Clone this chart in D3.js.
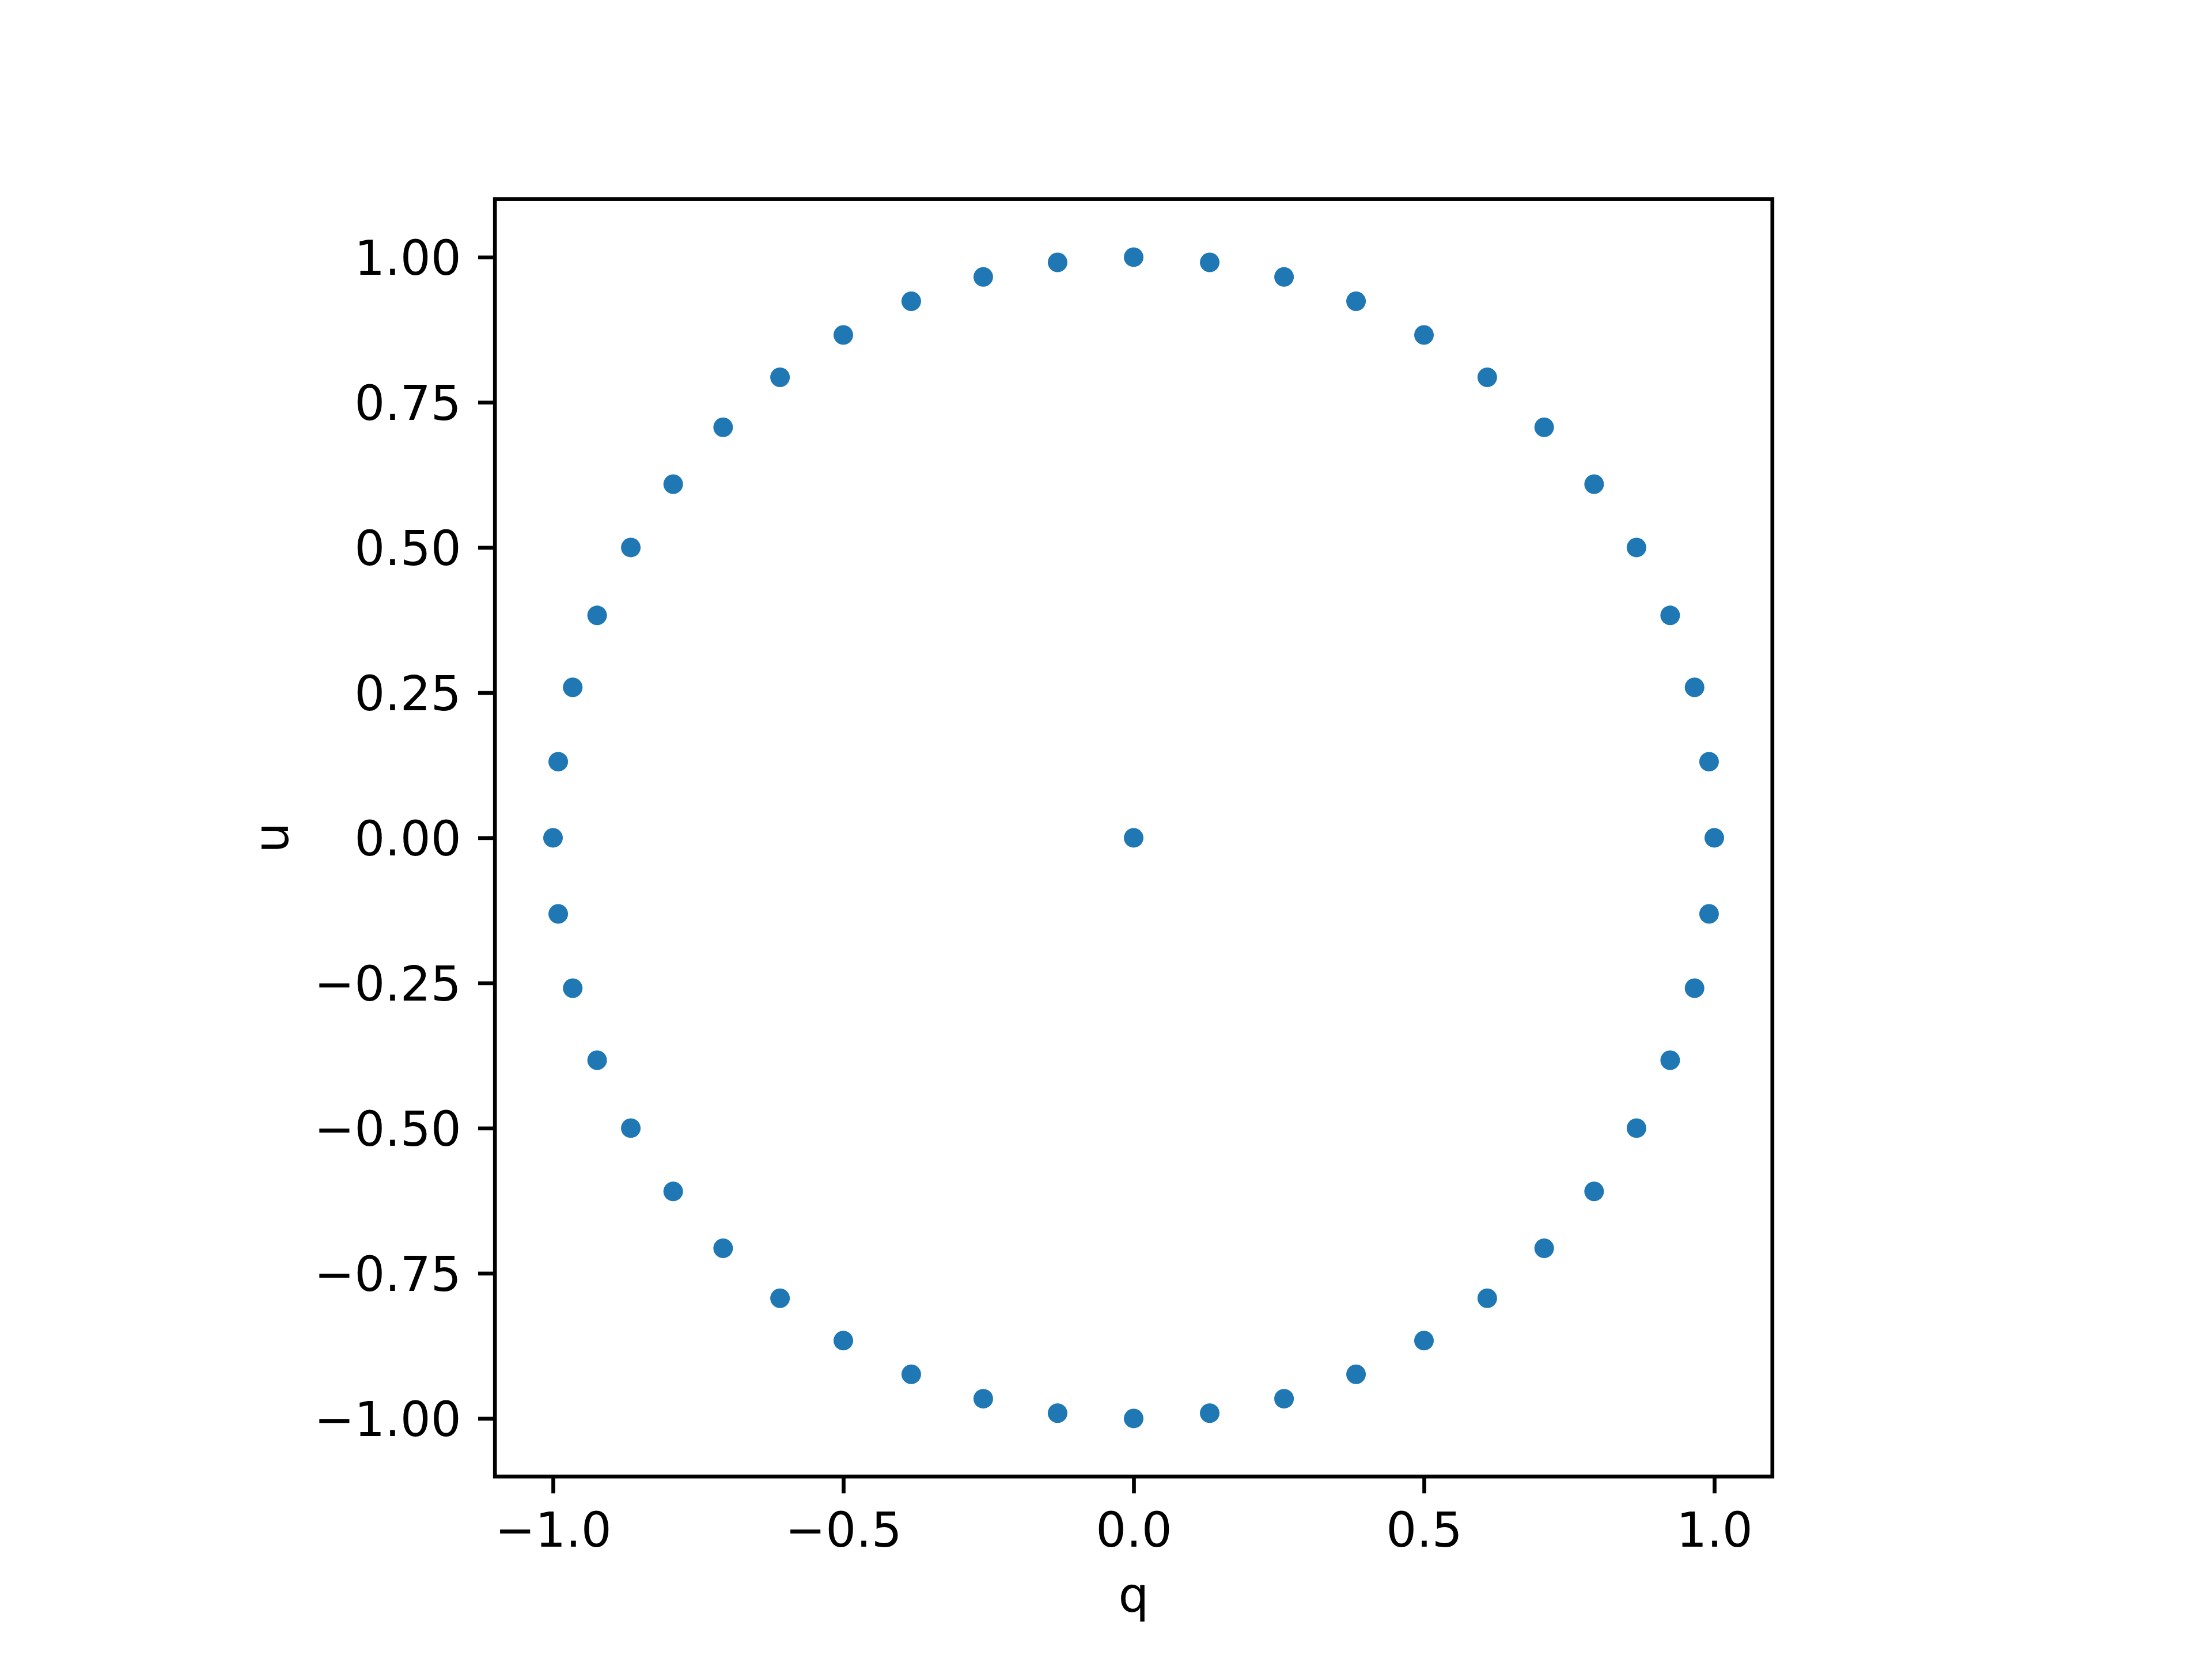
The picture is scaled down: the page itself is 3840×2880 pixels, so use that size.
<!DOCTYPE html>
<html>
<head>
<meta charset="utf-8">
<script src="https://cdn.jsdelivr.net/npm/d3@7"></script>
<style>
  body { margin: 0; background: #fff; }
  svg { display: block; }
  text { font-family: "DejaVu Sans", sans-serif; }
</style>
</head>
<body>
<div id="chart"></div>
<script>
// points: a ring of 48 points plus one at the centre
const qValues = [
    1.000, 0.991, 0.966, 0.924, 0.866, 0.793, 0.707, 0.609, 0.500, 0.383, 0.259, 0.131, 0.000,
    -0.131, -0.259, -0.383, -0.500, -0.609, -0.707, -0.793, -0.866, -0.924, -0.966, -0.991, -1.000,
    -0.991, -0.966, -0.924, -0.866, -0.793, -0.707, -0.609, -0.500, -0.383, -0.259, -0.131, 0.000,
    0.131, 0.259, 0.383, 0.500, 0.609, 0.707, 0.793, 0.866, 0.924, 0.966, 0.991,
    0.000
];
const uValues = [
    0.000, 0.131, 0.259, 0.383, 0.500, 0.609, 0.707, 0.793, 0.866, 0.924, 0.966, 0.991, 1.000,
    0.991, 0.966, 0.924, 0.866, 0.793, 0.707, 0.609, 0.500, 0.383, 0.259, 0.131, 0.000,
    -0.131, -0.259, -0.383, -0.500, -0.609, -0.707, -0.793, -0.866, -0.924, -0.966, -0.991, -1.000,
    -0.991, -0.966, -0.924, -0.866, -0.793, -0.707, -0.609, -0.500, -0.383, -0.259, -0.131,
    0.000
];
const xTicks = [-1.0, -0.5, 0.0, 0.5, 1.0];
const yTicks = [-1.00, -0.75, -0.50, -0.25, 0.00, 0.25, 0.50, 0.75, 1.00];
const xDomain = [-1.1, 1.1];
const yDomain = [-1.1, 1.1];

const points = qValues.map((q, i) => ({ q: q, u: uValues[i] }));

// figure sizes (matplotlib-like, 600 dpi)
const W = 3840, H = 2880;
const pt = 600 / 72;
const fontSize = 10 * pt;
const tickLen = 3.5 * pt;
const tickPad = 3.5 * pt;
const lineW = 0.8 * pt;

// square axes box centred in the default subplot area
const plotTop = H * (1 - 0.88), plotBottom = H * (1 - 0.11);
const side = plotBottom - plotTop;
const plotLeft = W * (0.125 + 0.9) / 2 - side / 2;
const plotRight = plotLeft + side;

const svg = d3.select("#chart").append("svg")
    .attr("width", W)
    .attr("height", H);

const x = d3.scaleLinear().domain(xDomain).range([plotLeft, plotRight]);
const y = d3.scaleLinear().domain(yDomain).range([plotBottom, plotTop]);

// scatter
svg.append("g")
    .selectAll("circle")
    .data(points)
    .join("circle")
    .attr("cx", d => x(d.q))
    .attr("cy", d => y(d.u))
    .attr("r", 17)
    .attr("fill", "#1f77b4");

// axes
const xAxis = d3.axisBottom(x).tickValues(xTicks).tickFormat(d3.format(".1f"))
    .tickSize(tickLen).tickPadding(tickPad);
const yAxis = d3.axisLeft(y).tickValues(yTicks).tickFormat(d3.format(".2f"))
    .tickSize(tickLen).tickPadding(tickPad);

const gx = svg.append("g").attr("transform", `translate(0,${plotBottom})`).call(xAxis);
const gy = svg.append("g").attr("transform", `translate(${plotLeft},0)`).call(yAxis);

[gx, gy].forEach(g => {
    g.select(".domain").remove();
    g.selectAll(".tick line").attr("stroke", "#000").attr("stroke-width", lineW);
    g.selectAll(".tick text")
        .attr("fill", "#000")
        .style("font-size", fontSize + "px")
        .style("font-family", "'DejaVu Sans', sans-serif");
});
gx.selectAll(".tick text").attr("dy", "0.76em");
gy.selectAll(".tick text").attr("dy", "0.36em");

// frame
svg.append("rect")
    .attr("x", plotLeft)
    .attr("y", plotTop)
    .attr("width", plotRight - plotLeft)
    .attr("height", plotBottom - plotTop)
    .attr("fill", "none")
    .attr("stroke", "#000")
    .attr("stroke-width", lineW);

// axis labels
svg.append("text")
    .attr("x", (plotLeft + plotRight) / 2)
    .attr("y", 2798)
    .attr("text-anchor", "middle")
    .style("font-size", fontSize + "px")
    .text("q");

svg.append("text")
    .attr("transform", `translate(500,${(plotTop + plotBottom) / 2}) rotate(-90)`)
    .attr("text-anchor", "middle")
    .style("font-size", fontSize + "px")
    .text("u");
</script>
</body>
</html>
